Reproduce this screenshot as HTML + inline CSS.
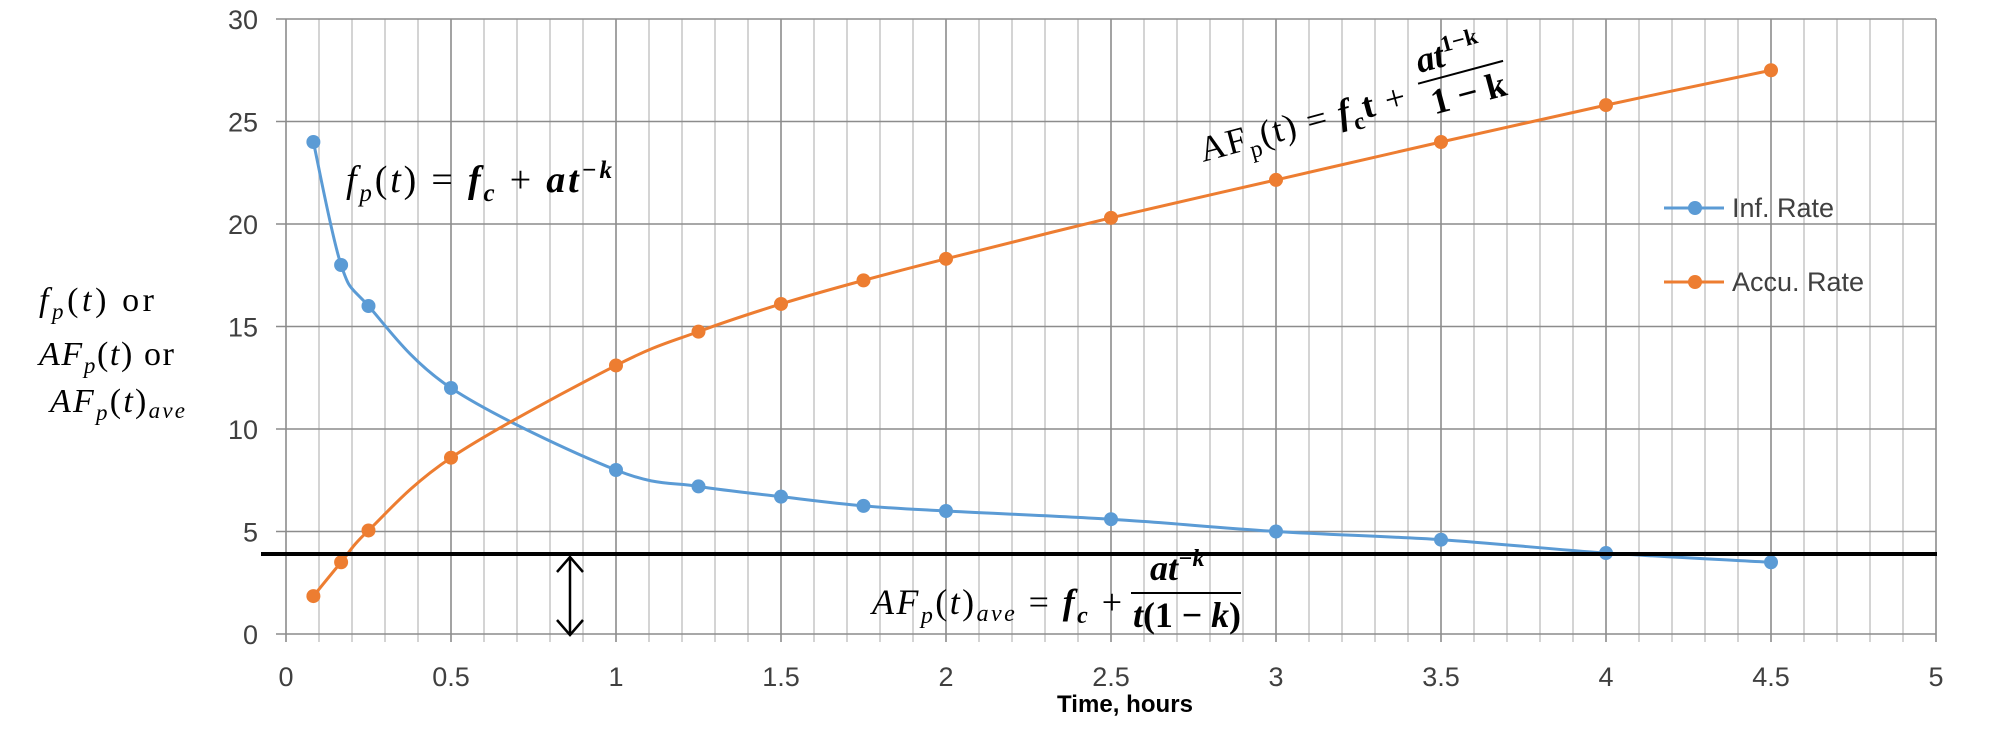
<!DOCTYPE html>
<html><head><meta charset="utf-8"><style>
html,body{margin:0;padding:0;background:#fff;}
svg{display:block;}
.tk{font-family:"Liberation Sans",sans-serif;font-size:27px;fill:#404040;}
.m{font-family:"Liberation Serif",serif;font-style:italic;fill:#000;}
</style></head><body>
<svg id="s" width="2008" height="734" viewBox="0 0 2008 734" xmlns="http://www.w3.org/2000/svg">
<rect width="2008" height="734" fill="#fff"/>
<g id="grid"></g>
<g id="series"></g>
<line x1="261" y1="554" x2="1937" y2="554" stroke="#000" stroke-width="4"/>
<line x1="570" y1="557" x2="570" y2="634" stroke="#000" stroke-width="2.5"/>
<polyline points="557,572 570,557 583,572" fill="none" stroke="#000" stroke-width="2.5"/>
<polyline points="557,620 570,635 583,620" fill="none" stroke="#000" stroke-width="2.5"/>
<line x1="1664" y1="208" x2="1724" y2="208" stroke="#5b9bd5" stroke-width="3"/>
<circle cx="1695" cy="208" r="7" fill="#5b9bd5"/>
<text x="1732" y="217" class="tk">Inf. Rate</text>
<line x1="1664" y1="282" x2="1724" y2="282" stroke="#ed7d31" stroke-width="3"/>
<circle cx="1695" cy="282" r="7" fill="#ed7d31"/>
<text x="1732" y="291" class="tk">Accu. Rate</text>
<text x="1125" y="712" text-anchor="middle" textLength="136" style="font-family:'Liberation Sans',sans-serif;font-weight:bold;font-size:24px;fill:#000">Time, hours</text>
<g class="m" style="font-size:34px">
<text x="39" y="311" textLength="115">f<tspan font-size="23" dy="8">p</tspan><tspan dy="-8" font-style="normal">(</tspan>t<tspan font-style="normal">) or</tspan></text>
<text x="39" y="365" textLength="135">AF<tspan font-size="23" dy="8">p</tspan><tspan dy="-8" font-style="normal">(</tspan>t<tspan font-style="normal">) or</tspan></text>
<text x="50" y="412" textLength="135">AF<tspan font-size="23" dy="8">p</tspan><tspan dy="-8" font-style="normal">(</tspan>t<tspan font-style="normal">)</tspan><tspan font-size="23" dy="6">ave</tspan></text>
</g>
<text x="346" y="192" class="m" textLength="266" style="font-size:38px">f<tspan font-size="25" dy="9">p</tspan><tspan dy="-9" font-style="normal">(</tspan>t<tspan font-style="normal">) = </tspan><tspan font-weight="bold">f</tspan><tspan font-size="25" dy="9" font-weight="bold">c</tspan><tspan dy="-9" font-style="normal"> + </tspan><tspan font-weight="bold">at</tspan><tspan font-size="25" dy="-14" font-weight="bold">−k</tspan></text>
<text x="872" y="614" class="m" textLength="250" style="font-size:36px">AF<tspan font-size="24" dy="9">p</tspan><tspan dy="-9" font-style="normal">(</tspan>t<tspan font-style="normal">)</tspan><tspan font-size="24" dy="7">ave</tspan><tspan dy="-7" font-style="normal"> = </tspan><tspan font-weight="bold">f</tspan><tspan font-size="24" dy="9" font-weight="bold">c</tspan><tspan dy="-9" font-style="normal"> +</tspan></text>
<line x1="1131" y1="593" x2="1241" y2="593" stroke="#000" stroke-width="2"/>
<text x="1150" y="580" class="m" style="font-size:36px;font-weight:bold">at<tspan font-size="24" dy="-14">−k</tspan></text>
<text x="1133" y="627" class="m" textLength="108" style="font-size:36px;font-weight:bold">t<tspan font-style="normal">(1 − </tspan>k<tspan font-style="normal">)</tspan></text>
<g transform="translate(1203,162) rotate(-15)">
<text x="0" y="0" textLength="212" style="font-family:'Liberation Serif',serif;font-size:36px;fill:#000">AF<tspan font-size="24" dy="9">p</tspan><tspan dy="-9">(t) = </tspan><tspan font-weight="bold" font-style="italic">f</tspan><tspan font-size="24" dy="9" font-weight="bold">c</tspan><tspan dy="-9" font-weight="bold">t</tspan><tspan> +</tspan></text>
<line x1="228" y1="-20" x2="316" y2="-20" stroke="#000" stroke-width="2"/>
<text x="232" y="-30" style="font-family:'Liberation Serif',serif;font-size:36px;font-weight:bold;font-style:italic;fill:#000">at<tspan font-size="23" dy="-14" font-style="normal">1−k</tspan></text>
<text x="236" y="14" style="font-family:'Liberation Serif',serif;font-size:36px;font-weight:bold;fill:#000">1 − k</text>
</g>
</svg>
<script>
var X0=286,XS=330,Y0=634,YS=20.5;
function px(t){return X0+t*XS;} function py(v){return Y0-v*YS;}
var g=document.getElementById('grid'),h='';
for(var i=0;i<=50;i++){var x=px(i/10);var major=i%5==0;
h+='<line x1="'+x+'" y1="'+py(30)+'" x2="'+x+'" y2="'+(Y0+8)+'" stroke="'+(major?'#8c8c8c':'#bdbdbd')+'" stroke-width="'+(major?1.6:1.3)+'"/>';}
for(var j=0;j<=6;j++){var y=py(j*5);
h+='<line x1="'+(X0-10)+'" y1="'+y+'" x2="'+px(5)+'" y2="'+y+'" stroke="#8c8c8c" stroke-width="1.5"/>';
h+='<text class="tk" x="258" y="'+(y+10)+'" text-anchor="end">'+(j*5)+'</text>';}
var xl=['0','0.5','1','1.5','2','2.5','3','3.5','4','4.5','5'];
for(var k=0;k<xl.length;k++){h+='<text class="tk" x="'+px(k*0.5)+'" y="686" text-anchor="middle">'+xl[k]+'</text>';}
g.innerHTML=h;
var T=[0.083,0.167,0.25,0.5,1,1.25,1.5,1.75,2,2.5,3,3.5,4,4.5];
var B=[24,18,16,12,8,7.2,6.7,6.25,6,5.6,5,4.6,3.95,3.5];
var O=[1.85,3.5,5.05,8.6,13.1,14.75,16.1,17.25,18.3,20.3,22.15,24,25.8,27.5];
function path(V){var p=T.map(function(t,i){return [px(t),py(V[i])];});
var d='M'+p[0][0]+','+p[0][1];
for(var i=0;i<p.length-1;i++){var p0=p[i-1]||p[i],p1=p[i],p2=p[i+1],p3=p[i+2]||p2;
var c1=[p1[0]+(p2[0]-p0[0])/6,p1[1]+(p2[1]-p0[1])/6],c2=[p2[0]-(p3[0]-p1[0])/6,p2[1]-(p3[1]-p1[1])/6];
d+=' C'+c1+' '+c2+' '+p2;}
var s='<path d="'+d+'" fill="none" stroke="COL" stroke-width="3"/>';
p.forEach(function(q){s+='<circle cx="'+q[0]+'" cy="'+q[1]+'" r="7" fill="COL"/>';});
return s;}
document.getElementById('series').innerHTML=path(B).replace(/COL/g,'#5b9bd5')+path(O).replace(/COL/g,'#ed7d31');
</script>
</body></html>
